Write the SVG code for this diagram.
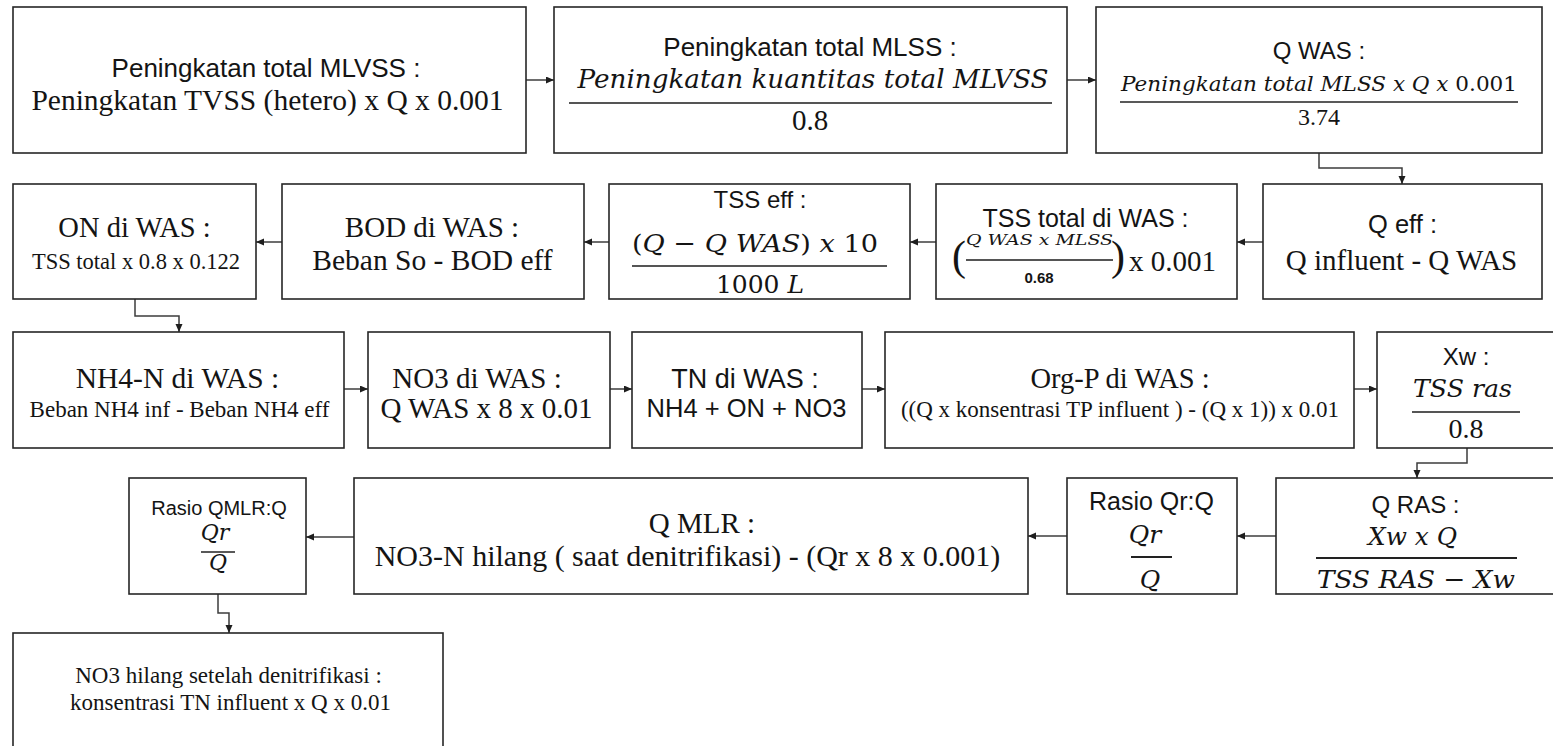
<svg xmlns="http://www.w3.org/2000/svg" width="1553" height="746" viewBox="0 0 1553 746">
  <defs>
    <marker id="ah" markerUnits="userSpaceOnUse" markerWidth="9" markerHeight="8" refX="8" refY="3.5" orient="auto">
      <path d="M0,0 L8,3.5 L0,7 z" fill="#1e1e1e"/>
    </marker>
    <style>
      .box { fill: #ffffff; stroke: #262626; stroke-width: 1.6; }
      .c { fill: none; stroke: #3c3c3c; stroke-width: 1.5; marker-end: url(#ah); }
      .frac { stroke: #555555; stroke-width: 2; }
      text { fill: #141414; text-anchor: middle; }
      .sans { font-family: 'Liberation Sans', Arial, sans-serif; }
      .serif { font-family: 'Liberation Serif', 'Times New Roman', serif; }
      .math { font-family: 'DejaVu Serif', 'Liberation Serif', serif; font-style: italic; }
      .up { font-style: normal; }
    </style>
  </defs>
  <rect width="1553" height="746" fill="#ffffff"/>

  <!-- connectors -->
  <g id="connectors">
    <line class="c" x1="526" y1="80" x2="554" y2="80"/>
    <line class="c" x1="1067" y1="80" x2="1096" y2="80"/>
    <path class="c" d="M1319,153 V168 H1402 V184"/>
    <line class="c" x1="1263" y1="242" x2="1237" y2="242"/>
    <line class="c" x1="936" y1="242" x2="910" y2="242"/>
    <line class="c" x1="609" y1="242" x2="584" y2="242"/>
    <line class="c" x1="282" y1="242" x2="256" y2="242"/>
    <path class="c" d="M135,299 V316 H179 V332"/>
    <line class="c" x1="344" y1="389" x2="368" y2="389"/>
    <line class="c" x1="610" y1="389" x2="632" y2="389"/>
    <line class="c" x1="862" y1="389" x2="885" y2="389"/>
    <line class="c" x1="1354" y1="389" x2="1377" y2="389"/>
    <path class="c" d="M1467,448 V463 H1417 V478"/>
    <line class="c" x1="1276" y1="536" x2="1237" y2="536"/>
    <line class="c" x1="1067" y1="536" x2="1028" y2="536"/>
    <line class="c" x1="354" y1="537" x2="306" y2="537"/>
    <path class="c" d="M218,594 V613 H229 V633"/>
  </g>

  <!-- row 1 -->
  <g id="mlvss">
    <rect class="box" x="13" y="7" width="513" height="146"/>
    <text class="sans" x="266" y="77" font-size="26">Peningkatan total MLVSS :</text>
    <text class="serif" x="267.5" y="110" font-size="29.5">Peningkatan TVSS (hetero) x Q x 0.001</text>
  </g>
  <g id="mlss">
    <rect class="box" x="554" y="7" width="513" height="146"/>
    <text class="sans" x="810" y="56" font-size="26">Peningkatan total MLSS :</text>
    <text class="math" x="813" y="88" font-size="26" textLength="471" lengthAdjust="spacingAndGlyphs">Peningkatan kuantitas total MLVSS</text>
    <line class="frac" x1="569" y1="103" x2="1052" y2="103"/>
    <text class="serif" x="810" y="130" font-size="29">0.8</text>
  </g>
  <g id="qwas">
    <rect class="box" x="1096" y="7" width="446" height="146"/>
    <text class="sans" x="1319" y="59" font-size="24">Q WAS :</text>
    <text class="math" x="1319" y="91" font-size="21" textLength="396" lengthAdjust="spacingAndGlyphs">Peningkatan total MLSS x Q x <tspan class="up">0.001</tspan></text>
    <line x1="1120" y1="102" x2="1518" y2="102" stroke="#222" stroke-width="1.6"/>
    <text class="serif" x="1319" y="125" font-size="24">3.74</text>
  </g>

  <!-- row 2 -->
  <g id="qeff">
    <rect class="box" x="1263" y="184" width="279" height="115"/>
    <text class="sans" x="1402.5" y="233" font-size="25.5">Q eff :</text>
    <text class="serif" x="1401.5" y="270" font-size="29">Q influent - Q WAS</text>
  </g>
  <g id="tss-total">
    <rect class="box" x="936" y="184" width="301" height="115"/>
    <text class="sans" x="1085.5" y="227" font-size="25">TSS total di WAS :</text>
    <text class="serif" x="959" y="270" font-size="42" font-weight="300">(</text>
    <text class="math" x="1039.5" y="245" font-size="14" textLength="147" lengthAdjust="spacingAndGlyphs">Q WAS x MLSS</text>
    <line class="frac" x1="966" y1="260" x2="1113" y2="260"/>
    <text class="sans" x="1039" y="283" font-size="15" font-weight="bold">0.68</text>
    <text class="serif" x="1118" y="270" font-size="42" font-weight="300">)</text>
    <text class="serif" x="1172.5" y="271" font-size="29">x 0.001</text>
  </g>
  <g id="tss-eff">
    <rect class="box" x="609" y="184" width="301" height="115"/>
    <text class="sans" x="760" y="208" font-size="24">TSS eff :</text>
    <text class="math" x="755" y="252" font-size="25" textLength="246" lengthAdjust="spacingAndGlyphs"><tspan class="up">(</tspan>Q <tspan class="up"> − </tspan> Q WAS<tspan class="up">)</tspan> x <tspan class="up">10</tspan></text>
    <line class="frac" x1="632" y1="266" x2="887" y2="266"/>
    <text class="math" x="760" y="293" font-size="25"><tspan class="up">1000</tspan> L</text>
  </g>
  <g id="bod">
    <rect class="box" x="282" y="184" width="302" height="115"/>
    <text class="serif" x="432" y="237" font-size="29">BOD di WAS :</text>
    <text class="serif" x="432.5" y="270" font-size="29.5">Beban So - BOD eff</text>
  </g>
  <g id="on">
    <rect class="box" x="13" y="184" width="243" height="115"/>
    <text class="serif" x="134.5" y="237" font-size="28.5">ON di WAS :</text>
    <text class="serif" x="136" y="269" font-size="22.5">TSS total x 0.8 x 0.122</text>
  </g>

  <!-- row 3 -->
  <g id="nh4">
    <rect class="box" x="13" y="332" width="331" height="116"/>
    <text class="serif" x="177.5" y="388" font-size="29.5">NH4-N di WAS :</text>
    <text class="serif" x="179.5" y="417" font-size="23">Beban NH4 inf - Beban NH4 eff</text>
  </g>
  <g id="no3">
    <rect class="box" x="368" y="332" width="242" height="116"/>
    <text class="serif" x="477" y="388" font-size="29">NO3 di WAS :</text>
    <text class="serif" x="486.5" y="418" font-size="29">Q WAS x 8 x 0.01</text>
  </g>
  <g id="tn">
    <rect class="box" x="632" y="332" width="230" height="116"/>
    <text class="sans" x="745" y="388" font-size="27">TN di WAS :</text>
    <text class="sans" x="746.5" y="417" font-size="25.5">NH4 + ON + NO3</text>
  </g>
  <g id="orgp">
    <rect class="box" x="885" y="332" width="469" height="116"/>
    <text class="serif" x="1120" y="388" font-size="28.5">Org-P di WAS :</text>
    <text class="serif" x="1120" y="417" font-size="23">((Q x konsentrasi TP influent ) - (Q x 1)) x 0.01</text>
  </g>
  <g id="xw">
    <rect class="box" x="1377" y="332" width="180" height="116"/>
    <text class="sans" x="1466" y="365" font-size="24">Xw :</text>
    <text class="math" x="1462.5" y="397" font-size="25" textLength="99" lengthAdjust="spacingAndGlyphs">TSS ras</text>
    <line class="frac" x1="1412" y1="412" x2="1520" y2="412"/>
    <text class="serif" x="1466" y="438" font-size="28">0.8</text>
  </g>

  <!-- row 4 -->
  <g id="qras">
    <rect class="box" x="1276" y="478" width="281" height="116"/>
    <text class="sans" x="1415.5" y="513" font-size="24">Q RAS :</text>
    <text class="math" x="1412.5" y="545" font-size="25" textLength="89" lengthAdjust="spacingAndGlyphs">Xw x Q</text>
    <line x1="1316" y1="558" x2="1517" y2="558" stroke="#222" stroke-width="1.8"/>
    <text class="math" x="1416" y="588" font-size="25" textLength="198" lengthAdjust="spacingAndGlyphs">TSS RAS <tspan class="up"> − </tspan> Xw</text>
  </g>
  <g id="rasio-qr">
    <rect class="box" x="1067" y="478" width="170" height="116"/>
    <text class="sans" x="1151.5" y="510" font-size="25">Rasio Qr:Q</text>
    <text class="math" x="1145" y="543" font-size="25">Qr</text>
    <line x1="1131" y1="557" x2="1172" y2="557" stroke="#222" stroke-width="1.8"/>
    <text class="math" x="1150" y="588" font-size="25">Q</text>
  </g>
  <g id="qmlr">
    <rect class="box" x="354" y="478" width="674" height="116"/>
    <text class="serif" x="702" y="533" font-size="29">Q MLR :</text>
    <text class="serif" x="687.5" y="566" font-size="30">NO3-N hilang ( saat denitrifikasi) - (Qr x 8 x 0.001)</text>
  </g>
  <g id="rasio-qmlr">
    <rect class="box" x="129" y="478" width="177" height="116"/>
    <text class="sans" x="219" y="515" font-size="20">Rasio QMLR:Q</text>
    <text class="math" x="215" y="540" font-size="22">Qr</text>
    <line x1="201" y1="552" x2="235" y2="552" stroke="#222" stroke-width="1.6"/>
    <text class="math" x="218" y="570" font-size="22">Q</text>
  </g>

  <!-- row 5 -->
  <g id="no3-hilang">
    <rect class="box" x="13" y="633" width="430" height="130"/>
    <text class="serif" x="228.5" y="683" font-size="23">NO3 hilang setelah denitrifikasi :</text>
    <text class="serif" x="230.5" y="710" font-size="23">konsentrasi TN influent x Q x 0.01</text>
  </g>
</svg>
